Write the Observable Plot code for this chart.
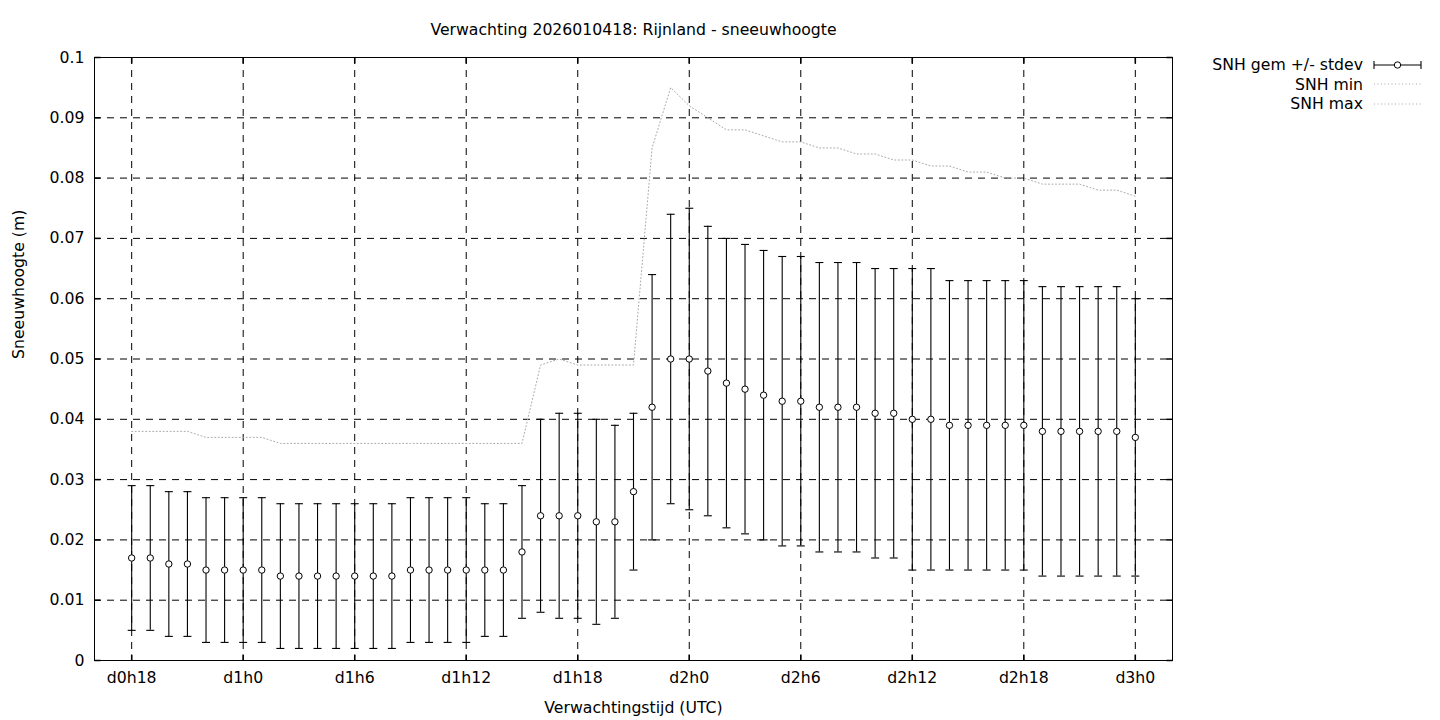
<!DOCTYPE html>
<html>
<head>
<meta charset="utf-8">
<script src="https://cdn.jsdelivr.net/npm/d3@7"></script>
<script src="https://cdn.jsdelivr.net/npm/@observablehq/plot@0.6"></script>
<style>
  html, body { margin: 0; padding: 0; background: #fff; }
  #wrap { position: relative; width: 1440px; height: 720px; font-family: "DejaVu Sans", sans-serif; font-size: 15.7px; color: #000; }
  #legend { position: absolute; right: 18px; top: 55px; }
  .row { display: flex; align-items: center; justify-content: flex-end; height: 19.5px; white-space: nowrap; }
  .row svg { margin-left: 9px; display: block; }
</style>
</head>
<body>
<div id="wrap">
  <div id="chart"></div>
  <div id="legend"></div>
</div>
<script>
const hours = [18,19,20,21,22,23,24,25,26,27,28,29,30,31,32,33,34,35,36,37,38,39,40,41,42,43,44,45,46,47,48,49,50,51,52,53,54,55,56,57,58,59,60,61,62,63,64,65,66,67,68,69,70,71,72];
const snhMean = [0.017,0.017,0.016,0.016,0.015,0.015,0.015,0.015,0.014,0.014,0.014,0.014,0.014,0.014,0.014,0.015,0.015,0.015,0.015,0.015,0.015,0.018,0.024,0.024,0.024,0.023,0.023,0.028,0.042,0.050,0.050,0.048,0.046,0.045,0.044,0.043,0.043,0.042,0.042,0.042,0.041,0.041,0.040,0.040,0.039,0.039,0.039,0.039,0.039,0.038,0.038,0.038,0.038,0.038,0.037];
const snhHigh = [0.029,0.029,0.028,0.028,0.027,0.027,0.027,0.027,0.026,0.026,0.026,0.026,0.026,0.026,0.026,0.027,0.027,0.027,0.027,0.026,0.026,0.029,0.040,0.041,0.041,0.040,0.039,0.041,0.064,0.074,0.075,0.072,0.070,0.069,0.068,0.067,0.067,0.066,0.066,0.066,0.065,0.065,0.065,0.065,0.063,0.063,0.063,0.063,0.063,0.062,0.062,0.062,0.062,0.062,0.060];
const snhLow = [0.005,0.005,0.004,0.004,0.003,0.003,0.003,0.003,0.002,0.002,0.002,0.002,0.002,0.002,0.002,0.003,0.003,0.003,0.003,0.004,0.004,0.007,0.008,0.007,0.007,0.006,0.007,0.015,0.020,0.026,0.025,0.024,0.022,0.021,0.020,0.019,0.019,0.018,0.018,0.018,0.017,0.017,0.015,0.015,0.015,0.015,0.015,0.015,0.015,0.014,0.014,0.014,0.014,0.014,0.014];
const snhMin = [0,0,0,0,0,0,0,0,0,0,0,0,0,0,0,0,0,0,0,0,0,0,0,0,0,0,0,0,0,0,0,0,0,0,0,0,0,0,0,0,0,0,0,0,0,0,0,0,0,0,0,0,0,0,0];
const snhMax = [0.038,0.038,0.038,0.038,0.037,0.037,0.037,0.037,0.036,0.036,0.036,0.036,0.036,0.036,0.036,0.036,0.036,0.036,0.036,0.036,0.036,0.036,0.049,0.050,0.049,0.049,0.049,0.049,0.085,0.095,0.092,0.090,0.088,0.088,0.087,0.086,0.086,0.085,0.085,0.084,0.084,0.083,0.083,0.082,0.082,0.081,0.081,0.080,0.080,0.079,0.079,0.079,0.078,0.078,0.077];

const xTicks = [18,24,30,36,42,48,54,60,66,72];
const xTickLabels = ["d0h18","d1h0","d1h6","d1h12","d1h18","d2h0","d2h6","d2h12","d2h18","d3h0"];
const yTicks = [0,0.01,0.02,0.03,0.04,0.05,0.06,0.07,0.08,0.09,0.1];
const yTickLabels = ["0","0.01","0.02","0.03","0.04","0.05","0.06","0.07","0.08","0.09","0.1"];

const titleText = "Verwachting 2026010418: Rijnland - sneeuwhoogte";
const xLabel = "Verwachtingstijd (UTC)";
const yLabel = "Sneeuwhoogte (m)";
const legendLabels = ["SNH gem +/- stdev", "SNH min", "SNH max"];

const data = hours.map((h, i) => ({h, mean: snhMean[i], hi: snhHigh[i], lo: snhLow[i], min: snhMin[i], max: snhMax[i]}));

const capSymbol = {draw(ctx) { ctx.moveTo(-4, 0); ctx.lineTo(4, 0); }};
const tickRight = {draw(ctx) { ctx.moveTo(0, 0); ctx.lineTo(6, 0); }};
const tickLeft = {draw(ctx) { ctx.moveTo(0, 0); ctx.lineTo(-6, 0); }};
const tickUp = {draw(ctx) { ctx.moveTo(0, 0); ctx.lineTo(0, -6); }};
const tickDown = {draw(ctx) { ctx.moveTo(0, 0); ctx.lineTo(0, 6); }};

const dash = "7,6";
const grayDot = "#a8a8a8";

const chart = Plot.plot({
  width: 1440,
  height: 720,
  marginLeft: 94,
  marginRight: 268,
  marginTop: 57,
  marginBottom: 60,
  style: {fontFamily: "DejaVu Sans, sans-serif", fontSize: "15.7px", background: "white", color: "black", overflow: "visible"},
  x: {domain: [16, 74]},
  y: {domain: [0, 0.1]},
  marks: [
    Plot.gridX(xTicks, {stroke: "black", strokeOpacity: 1, strokeDasharray: dash}),
    Plot.gridY(yTicks.slice(1, -1), {stroke: "black", strokeOpacity: 1, strokeDasharray: dash}),
    Plot.line(data, {x: "h", y: "min", stroke: grayDot, strokeWidth: 1, strokeDasharray: "1,2.5"}),
    Plot.line(data, {x: "h", y: "max", stroke: grayDot, strokeWidth: 1, strokeDasharray: "1,2.5"}),
    Plot.ruleX(data, {x: "h", y1: "lo", y2: "hi", stroke: "black", strokeWidth: 1.1}),
    Plot.dot(data, {x: "h", y: "hi", symbol: capSymbol, stroke: "black", strokeWidth: 1.1, fill: "none"}),
    Plot.dot(data, {x: "h", y: "lo", symbol: capSymbol, stroke: "black", strokeWidth: 1.1, fill: "none"}),
    Plot.dot(data, {x: "h", y: "mean", r: 3.2, fill: "white", stroke: "black", strokeWidth: 1}),
    Plot.frame({stroke: "black", strokeWidth: 1}),
    Plot.dot(yTicks, {y: d => d, frameAnchor: "left", symbol: tickRight, stroke: "black", fill: "none"}),
    Plot.dot(yTicks, {y: d => d, frameAnchor: "right", symbol: tickLeft, stroke: "black", fill: "none"}),
    Plot.dot(xTicks, {x: d => d, frameAnchor: "bottom", symbol: tickUp, stroke: "black", fill: "none"}),
    Plot.dot(xTicks, {x: d => d, frameAnchor: "top", symbol: tickDown, stroke: "black", fill: "none"}),
    Plot.axisX({ticks: xTicks, tickFormat: d => xTickLabels[xTicks.indexOf(d)], tickSize: 0, tickPadding: 11, label: null, fontSize: 15.7}),
    Plot.axisY({ticks: yTicks, tickFormat: d => yTickLabels[yTicks.indexOf(d)], tickSize: 0, tickPadding: 10, label: null, fontSize: 15.7}),
    Plot.text([titleText], {frameAnchor: "top", dy: -28, text: d => d, fontSize: 15.7, lineAnchor: "middle", fill: "black"}),
    Plot.text([xLabel], {frameAnchor: "bottom", dy: 47, text: d => d, fontSize: 15.7, lineAnchor: "middle", fill: "black"}),
    Plot.text([yLabel], {frameAnchor: "left", dx: -76, rotate: -90, text: d => d, fontSize: 15.7, lineAnchor: "middle", fill: "black"})
  ]
});
document.getElementById("chart").appendChild(chart);

// legend
const legend = document.getElementById("legend");
const ns = "http://www.w3.org/2000/svg";
function sampleSvg(kind) {
  const svg = document.createElementNS(ns, "svg");
  svg.setAttribute("width", "50");
  svg.setAttribute("height", "12");
  const add = (tag, attrs) => { const el = document.createElementNS(ns, tag); for (const k in attrs) el.setAttribute(k, attrs[k]); svg.appendChild(el); };
  if (kind === 0) {
    add("line", {x1: 2, x2: 49, y1: 6, y2: 6, stroke: "black", "stroke-width": 1.1});
    add("line", {x1: 2, x2: 2, y1: 2, y2: 10, stroke: "black", "stroke-width": 1.1});
    add("line", {x1: 49, x2: 49, y1: 2, y2: 10, stroke: "black", "stroke-width": 1.1});
    add("circle", {cx: 25.5, cy: 6, r: 3.2, fill: "white", stroke: "black", "stroke-width": 1});
  } else {
    add("line", {x1: 2, x2: 49, y1: 6, y2: 6, stroke: grayDot, "stroke-width": 1, "stroke-dasharray": "1,2.5"});
  }
  return svg;
}
legendLabels.forEach((label, i) => {
  const row = document.createElement("div");
  row.className = "row";
  const span = document.createElement("span");
  span.textContent = label;
  row.appendChild(span);
  row.appendChild(sampleSvg(i));
  legend.appendChild(row);
});
</script>
</body>
</html>
